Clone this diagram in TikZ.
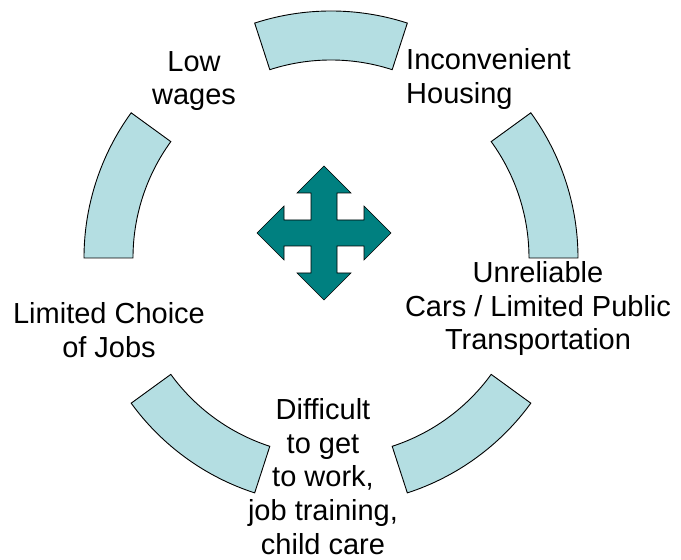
\documentclass[tikz,border=0pt]{standalone}
\usepackage{fontspec}
\setmainfont{Liberation Sans}
\definecolor{arcfill}{RGB}{180,222,226}
\definecolor{crossteal}{RGB}{0,128,128}

\begin{document}
\begin{tikzpicture}[x=1pt,y=1pt]

    \tikzset{arcstyle/.style={draw=black,fill=arcfill,line width=0.9pt},
             labelstyle/.style={inner sep=0pt,align=center,font=\fontsize{29}{33.8}\selectfont}}
    \useasboundingbox (0,0) rectangle (681,560);
    \coordinate (hub) at (331,302);
    \coordinate (mid) at (324,327);

    % ring of five arcs
    \begin{scope}[shift={(hub)}]
        \draw[arcstyle] (72:247) arc[start angle=72,end angle=108,radius=247] -- (108:198) arc[start angle=108,end angle=72,radius=198] -- cycle;
        \draw[arcstyle] (0:247) arc[start angle=0,end angle=36,radius=247] -- (36:198) arc[start angle=36,end angle=0,radius=198] -- cycle;
        \draw[arcstyle] (144:247) arc[start angle=144,end angle=180,radius=247] -- (180:198) arc[start angle=180,end angle=144,radius=198] -- cycle;
        \draw[arcstyle] (216:247) arc[start angle=216,end angle=252,radius=247] -- (252:198) arc[start angle=252,end angle=216,radius=198] -- cycle;
        \draw[arcstyle] (288:247) arc[start angle=288,end angle=324,radius=247] -- (324:198) arc[start angle=324,end angle=288,radius=198] -- cycle;
    \end{scope}

    % four way arrow
    \draw[fill=crossteal,draw=black,line width=0.6pt,shift={(mid)}]
        (0,67) -- (27,40) -- (13,40) -- (13,13) -- (40,13) -- (40,27) -- (67,0)
        -- (40,-27) -- (40,-13) -- (13,-13) -- (13,-40) -- (27,-40) -- (0,-67)
        -- (-27,-40) -- (-13,-40) -- (-13,-13) -- (-40,-13) -- (-40,-27) -- (-67,0)
        -- (-40,27) -- (-40,13) -- (-13,13) -- (-13,40) -- (-27,40) -- cycle;

    \node[labelstyle,anchor=north] (wages) at (194,509) {Low\\wages};
    \node[labelstyle,anchor=north west,align=left] (housing) at (406,512) {Inconvenient\\Housing};
    \node[labelstyle,anchor=north] (cars) at (538,299) {Unreliable\\Cars / Limited Public\\Transportation};
    \node[labelstyle,anchor=north] (jobs) at (109,258) {Limited Choice\\of Jobs};
    \node[labelstyle,anchor=north] (work) at (323,162) {Difficult\\to get\\to work,\\job training,\\child care};

\end{tikzpicture}
\end{document}
